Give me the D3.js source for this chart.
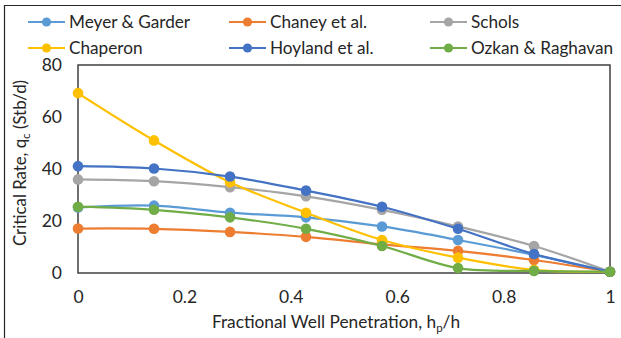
<!DOCTYPE html>
<meta charset="utf-8">
<html>
<head>
<script src="https://d3js.org/d3.v7.min.js"></script>
<style>
  body { margin: 0; background: #fff; }
  text { font-family: Lato, sans-serif; fill: #262626; }
</style>
</head>
<body>
<script>
// x positions (fractional well penetration)
var penetration = [0, 1/7, 2/7, 3/7, 4/7, 5/7, 6/7, 1];

// critical rate per method
var meyerGarder = [25.2, 25.9, 23.2, 21.4, 17.9, 12.7, 7.0, 0.5];
var chaney      = [17.1, 17.0, 15.8, 13.9, 11.0, 8.5, 5.0, 0.5];
var schols      = [36.0, 35.3, 33.0, 29.5, 24.3, 17.9, 10.4, 0.5];
var chaperon    = [69.2, 51.0, 34.9, 23.2, 12.7, 5.9, 1.2, 0.5];
var hoyland     = [41.1, 40.2, 37.1, 31.7, 25.5, 17.0, 7.3, 0.5];
var ozkan       = [25.5, 24.3, 21.4, 17.0, 10.4, 1.9, 0.8, 0.5];

var seriesNames = ["Meyer & Garder", "Chaney et al.", "Schols", "Chaperon", "Hoyland et al.", "Ozkan & Raghavan"];
var seriesValues = [meyerGarder, chaney, schols, chaperon, hoyland, ozkan];
var colors = ["#5B9BD5", "#ED7D31", "#A5A5A5", "#FFC000", "#4472C4", "#70AD47"];

var yTicks = [0, 20, 40, 60, 80];
var xTicks = [0, 0.2, 0.4, 0.6, 0.8, 1];

var W = 621, H = 338;
var margin = {left: 78, right: 11, top: 65, bottom: 65};

var svg = d3.select("body").append("svg")
    .attr("width", W)
    .attr("height", H);

// outer frame (only left/top visible in the crop)
svg.append("path")
    .attr("d", "M4.5," + H + "V5.5H" + W)
    .attr("fill", "none")
    .attr("stroke", "#262626")
    .attr("stroke-width", 1.2);

var x = d3.scaleLinear().domain([0, 1]).range([margin.left, W - margin.right]);
var y = d3.scaleLinear().domain([0, 80]).range([H - margin.bottom, margin.top]);

// plot box
svg.append("rect")
    .attr("x", x(0)).attr("y", y(80))
    .attr("width", x(1) - x(0)).attr("height", y(0) - y(80))
    .attr("fill", "none")
    .attr("stroke", "#404040")
    .attr("stroke-width", 1.5);

// axes (labels only)
var yAxis = svg.append("g")
    .attr("transform", "translate(" + x(0) + ",0)")
    .call(d3.axisLeft(y).tickValues(yTicks).tickSize(0).tickPadding(16));
var xAxis = svg.append("g")
    .attr("transform", "translate(0," + y(0) + ")")
    .call(d3.axisBottom(x).tickValues(xTicks).tickSize(0).tickPadding(18)
        .tickFormat(function(d) { return d3.format("~g")(d); }));
[yAxis, xAxis].forEach(function(a) {
    a.select(".domain").remove();
    a.selectAll("text").attr("font-size", 17.5).attr("font-family", "Lato, sans-serif").attr("fill", "#262626");
});

// axis titles
var xt = svg.append("text")
    .attr("x", 336)
    .attr("y", 328)
    .attr("text-anchor", "middle")
    .attr("font-size", 17.3);
xt.append("tspan").text("Fractional Well Penetration, h");
xt.append("tspan").attr("font-size", 11.5).attr("dy", 4).text("p");
xt.append("tspan").attr("dy", -4).text("/h");

var yt = svg.append("text")
    .attr("transform", "translate(26,163) rotate(-90)")
    .attr("text-anchor", "middle")
    .attr("font-size", 16.8);
yt.append("tspan").text("Critical Rate, q");
yt.append("tspan").attr("font-size", 11.5).attr("dy", 4).text("c");
yt.append("tspan").attr("dy", -4).text(" (Stb/d)");

// clip to plot area
svg.append("clipPath").attr("id", "plot")
  .append("rect")
    .attr("x", x(0)).attr("y", y(80))
    .attr("width", x(1) - x(0) + 10).attr("height", y(0) - y(80) + 1);

var line = d3.line()
    .x(function(d) { return x(d[0]); })
    .y(function(d) { return y(d[1]); })
    .curve(d3.curveCatmullRom.alpha(0.5));

seriesValues.forEach(function(vals, i) {
    var pts = penetration.map(function(p, j) { return [p, vals[j]]; });
    var g = svg.append("g");
    g.append("path")
        .datum(pts)
        .attr("clip-path", "url(#plot)")
        .attr("fill", "none")
        .attr("stroke", colors[i])
        .attr("stroke-width", 2.2)
        .attr("d", line);
    g.selectAll("circle")
        .data(pts)
        .enter().append("circle")
        .attr("cx", function(d) { return x(d[0]); })
        .attr("cy", function(d) { return y(d[1]); })
        .attr("r", 5.3)
        .attr("fill", colors[i]);
});

// legend
var legX = [28, 229, 430];
var legY = [22, 48];
seriesNames.forEach(function(name, i) {
    var lx = legX[i % 3], ly = legY[Math.floor(i / 3)];
    var g = svg.append("g").attr("transform", "translate(" + lx + "," + ly + ")");
    g.append("line").attr("x1", 0).attr("x2", 37).attr("y1", 0).attr("y2", 0)
        .attr("stroke", colors[i]).attr("stroke-width", 2.2);
    g.append("circle").attr("cx", 18.5).attr("cy", 0).attr("r", 4.6).attr("fill", colors[i]);
    g.append("text").attr("x", 41).attr("y", 6.2).attr("font-size", 17.2).text(name);
});
</script>
</body>
</html>
